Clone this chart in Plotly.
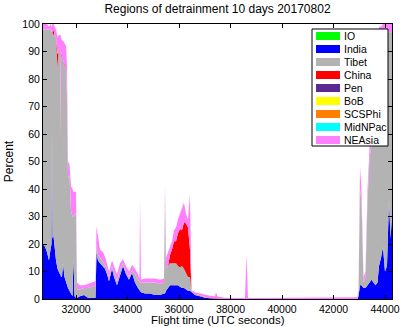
import plotly.graph_objects as go

flight_time = [30718, 30796, 30874, 30951, 31010, 31048, 31068, 31087, 31126, 31165,
               31223, 31282, 31320, 31379, 31398, 31418, 31456, 31495, 31553, 31612,
               31650, 31689, 31748, 31806, 31864, 31903, 31942, 32000, 32039, 32155,
               32311, 32466, 32621, 32757, 32796, 32854, 32932, 33049, 33126, 33204,
               33282, 33398, 33476, 33592, 33709, 33825, 33942, 34058, 34175, 34291,
               34408, 34466, 34485, 34524, 34680, 34874, 35068, 35262, 35417, 35456,
               35495, 35573, 35650, 35728, 35806, 35883, 35961, 36039, 36116, 36194,
               36272, 36349, 36427, 36485, 36524, 36621, 36815, 37010, 37204, 37398,
               37437, 37495, 37786, 38563, 38621, 38680, 40699, 42932, 42971, 43029,
               43087, 43165, 43243, 43320, 43398, 43476, 43553, 43631, 43709, 43767,
               43845, 43922, 44000, 44078, 44155, 44214, 44272]

india = [20, 19, 17, 14, 18, 20, 62, 22, 23, 18,
         14, 11, 10, 9, 9, 8, 8, 13, 8, 6,
         5, 4, 3, 2, 1, 15, 1, 0.5, 0.5, 1,
         1.5, 0.5, 0.5, 0.5, 17, 14, 13, 12, 11, 9,
         6.5, 11, 8, 5, 9, 12, 9, 7, 9.5, 6,
         4, 3, 3, 2.5, 2, 2, 1.5, 1.5, 2, 2,
         3, 4, 5, 5, 5, 5, 5, 4.5, 4, 4,
         3.5, 3, 3, 2.5, 2, 1.5, 1, 0.5, 0.3, 0.2,
         0.2, 0.1, 0, 0, 0, 0, 0, 0, 1, 5,
         5, 4, 4, 5, 6, 7, 6, 5, 6, 12,
         15, 19, 10, 12, 36, 22, 30]

tibet = [78, 79, 81, 84, 80, 77, 36, 75, 73, 78,
         81, 73, 80, 82, 44, 82, 80, 74, 77, 78,
         68, 40, 42, 30, 29, 15, 30, 30, 3, 2.5,
         2.5, 3.5, 4, 4.5, 3, 2, 2, 1.5, 1.5, 1.5,
         1.5, 1, 1.5, 1.5, 1.5, 1, 1, 1, 1, 3,
         3, 3, 3, 3.5, 4, 4, 4.5, 4, 4, 35,
         8, 8, 8, 8, 8, 8, 7, 7, 8, 7,
         6, 5, 5, 0.5, 0.5, 0.5, 0.3, 0.2, 0.2, 0,
         0, 0, 0, 0, 0, 0, 0, 0, 1, 35,
         30, 2, 4, 30, 45, 50, 55, 53, 86, 84,
         80, 78, 87, 85, 61, 75, 67]

china = [0, 0, 0, 0, 0, 0, 0, 0, 2, 0,
         0, 5, 0, 0, 5, 0, 0, 0, 0, 0,
         0, 0, 0, 0, 0, 0, 0, 0, 0, 0,
         0, 0, 0, 0, 0, 0, 0, 0, 0, 0,
         0, 0, 0, 0, 0, 0, 0, 0, 0, 0,
         0, 0, 0, 0, 0, 0, 0, 0, 0, 0,
         0, 0, 3, 5, 8, 8, 12, 14, 13, 17,
         18, 18, 10, 0, 0, 0, 0, 0, 0, 0,
         0, 0, 0, 0, 0, 0, 0, 0, 0, 0,
         0, 0, 0, 0, 0, 0, 0, 0, 0, 0,
         0, 0, 0, 0, 0, 0, 0]

midnpac = [0, 0, 0, 0, 0, 0, 0, 0, 0, 0,
           0, 0, 0, 0, 1, 0, 0, 0, 0, 0,
           0, 0, 0, 0, 0, 0, 0, 0, 0, 0,
           0, 0, 0, 0, 0, 0, 0, 0, 0, 0,
           0, 0, 0, 0, 0, 0, 0, 0, 0, 0,
           0, 0, 0, 0, 0, 0, 0, 0, 0, 0,
           0, 0, 0, 0, 0, 0, 0, 0, 0, 0,
           0, 0, 0, 0, 0, 0, 0, 0, 0, 0,
           0, 0, 0, 0, 0, 0, 0, 0, 0, 0,
           0, 0, 0, 0, 0, 0, 0, 0, 0, 0,
           0, 0, 0, 0, 0, 0, 0]

neasia = [2, 2, 2, 1, 2, 2, 2, 3, 2, 3,
          3, 6, 6, 5, 37, 5, 6, 7, 8, 8,
          12, 6, 4, 9, 10, 9, 8, 8.5, 2.5, 1.5,
          1, 1.5, 1.5, 1.5, 6.5, 7, 3, 3.5, 3, 2.5,
          2, 2, 2.5, 2.5, 2.5, 1.5, 2, 2, 2, 2,
          2, 1.5, 31, 1, 1.5, 1.5, 1.5, 1.5, 1.5, 4.5,
          4, 5, 3, 3, 4, 5, 5, 6, 8, 7,
          3.5, 3, 20, 0.5, 0.5, 0.5, 0.7, 0.8, 0.7, 0.8,
          2.3, 0.8, 0.5, 0.4, 16, 0.4, 0.4, 0.6, 1, 8,
          5, 2, 2, 5, 4, 3, 2, 2, 3, 3,
          4, 3, 3, 3, 3, 3, 3]

# regions with no contribution on this flight
io = [0] * len(flight_time)
pen = [0] * len(flight_time)
bob = [0] * len(flight_time)
scsphi = [0] * len(flight_time)

regions = ["IO", "India", "Tibet", "China", "Pen", "BoB", "SCSPhi", "MidNPac", "NEAsia"]
series = [io, india, tibet, china, pen, bob, scsphi, midnpac, neasia]
colors = ["#00FF00", "#0000FF", "#B3B3B3", "#FF0000", "#5A2A92",
          "#FFFF00", "#FF8000", "#00FFFF", "#FF80FF"]

fig = go.Figure()
for name, vals, col in zip(regions, series, colors):
    fig.add_trace(go.Scatter(x=flight_time, y=vals, name=name, mode="lines",
                             stackgroup="one", fillcolor=col,
                             line=dict(width=0, color=col)))

# matlab-style legend box drawn by hand (plotly's legend rows are too tall)
W, H = 402, 327
L, R, T, B = 43, 10, 24, 28
pw, ph = W - L - R, H - T - B


def px2x(px):
    return (px - L) / pw


def py2y(py):
    return (H - B - py) / ph


fig.add_shape(type="rect", xref="paper", yref="paper",
              x0=px2x(312), x1=px2x(388), y0=py2y(146), y1=py2y(29),
              fillcolor="white", line=dict(color="black", width=1), layer="above")
for i, (name, col) in enumerate(zip(regions, colors)):
    cy = 36 + 13 * i
    fig.add_shape(type="rect", xref="paper", yref="paper",
                  x0=px2x(316), x1=px2x(340), y0=py2y(cy + 4), y1=py2y(cy - 4),
                  fillcolor=col, line=dict(width=0), layer="above")
    fig.add_annotation(text=name, xref="paper", yref="paper", x=px2x(341.5), y=py2y(cy),
                       xanchor="left", yanchor="middle", showarrow=False,
                       font=dict(size=10.5, color="black"))

# x axis title as a note, so it sits clear of the tick labels
fig.add_annotation(text="Flight time (UTC seconds)", xref="paper", yref="paper",
                   x=0.5, y=py2y(327), xanchor="center", yanchor="bottom",
                   showarrow=False, font=dict(size=11.5, color="black"),
                   borderpad=0)

axis_style = dict(showline=True, linecolor="black", linewidth=1, mirror="ticks",
                  ticks="inside", ticklen=4, tickcolor="black", showgrid=False,
                  zeroline=False, automargin=False, tickfont=dict(size=10.5, color="black"))

fig.update_layout(
    title=dict(text="Regions of detrainment 10 days 20170802", x=0.5, xref="paper",
               xanchor="center", y=0.985, yanchor="top", font=dict(size=12, color="black")),
    width=W, height=H,
    margin=dict(l=L, r=R, t=T, b=B),
    paper_bgcolor="white", plot_bgcolor="white",
    font=dict(family="Liberation Sans, Arial, sans-serif", color="black"),
    showlegend=False,
)
fig.update_xaxes(range=[30718, 44272], tickvals=[32000, 34000, 36000, 38000, 40000, 42000, 44000],
                 tickformat="d", ticklabelstandoff=0, **axis_style)
fig.update_yaxes(range=[0, 100], tickvals=list(range(0, 101, 10)),
                 title=dict(text="Percent", font=dict(size=12), standoff=6),
                 **axis_style)

fig.write_html("out.html", config={"displayModeBar": False},
               post_script="document.body.style.margin='0px';document.body.style.overflow='hidden';")
